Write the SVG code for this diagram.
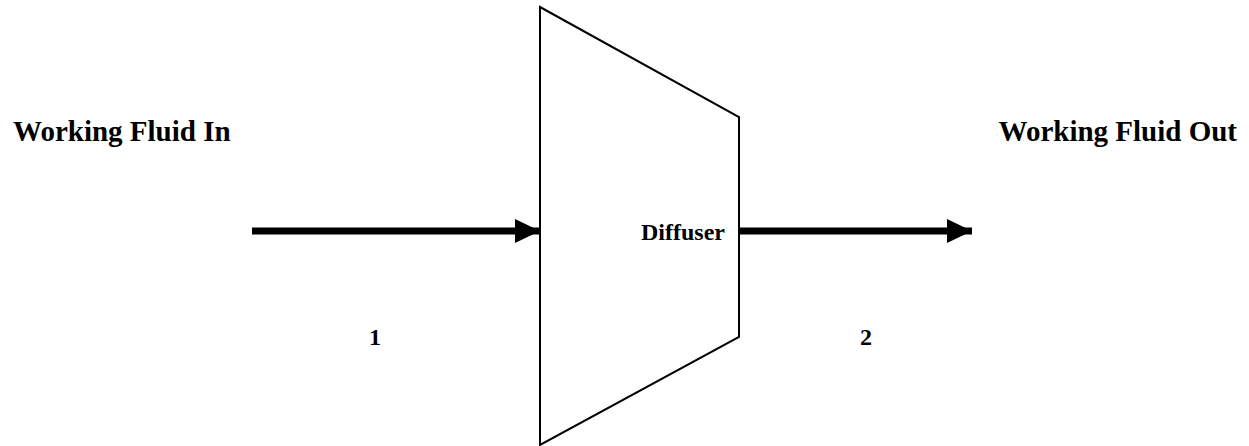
<svg xmlns="http://www.w3.org/2000/svg" width="1249" height="446" viewBox="0 0 1249 446">
<style>
text{font-family:"Liberation Serif","Times New Roman",serif;font-weight:bold;font-size:24px;fill:#000}
.head{font-size:29px}
.shape{fill:#fff;stroke:#000;stroke-width:2}
.flow{stroke:#000;stroke-width:7;fill:none}
</style>
<defs>
<marker id="ah" markerUnits="userSpaceOnUse" markerWidth="26" markerHeight="24" refX="25" refY="12" orient="auto">
<path d="M0,0 L25,12 L0,24 Z" fill="#000"/>
</marker>
</defs>
<rect width="1249" height="446" fill="#fff"/>
<g id="diffuser">
<polygon class="shape" points="540,7 739,117 739,337 540,445"/>
<text x="641" y="240">Diffuser</text>
</g>
<g id="connectors">
<line class="flow" x1="252" y1="231" x2="540" y2="231" marker-end="url(#ah)"/>
<line class="flow" x1="739" y1="231" x2="972" y2="231" marker-end="url(#ah)"/>
</g>
<g id="inlet">
<text class="head" x="13" y="141">Working Fluid In</text>
<text x="369" y="345">1</text>
</g>
<g id="outlet">
<text class="head" x="1237" y="141" text-anchor="end">Working Fluid Out</text>
<text x="860" y="345">2</text>
</g>
</svg>
